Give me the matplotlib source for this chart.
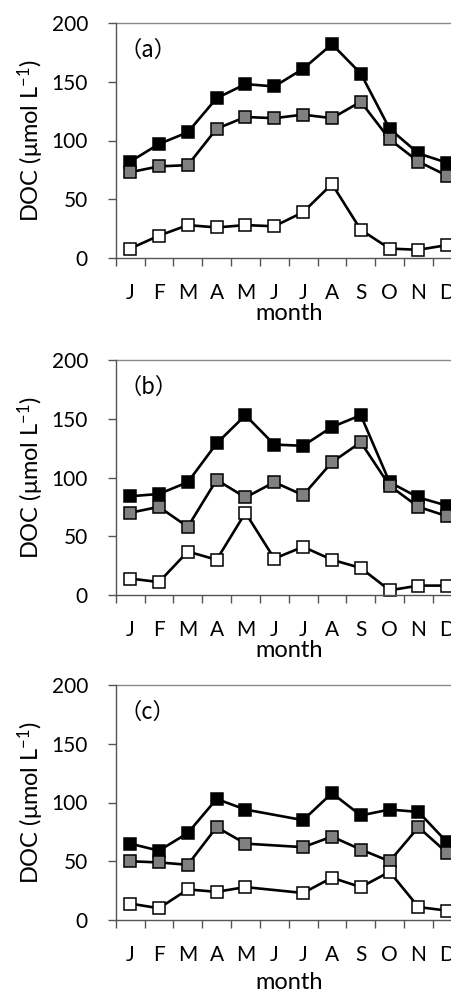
import matplotlib
matplotlib.use("Agg")
import matplotlib.pyplot as plt

plt.rcParams['font.family'] = ['Lato', 'Noto Sans CJK JP', 'DejaVu Sans']
plt.rcParams['mathtext.default'] = 'regular'

months = ['J', 'F', 'M', 'A', 'M', 'J', 'J', 'A', 'S', 'O', 'N', 'D']
panel_labels = ['（a）', '（b）', '（c）']

# panel (a)
a_black = [82, 97, 107, 136, 148, 146, 161, 182, 157, 110, 89, 81]
a_gray = [73, 78, 79, 110, 120, 119, 122, 119, 133, 101, 82, 70]
a_white = [8, 19, 28, 26, 28, 27, 39, 63, 24, 8, 7, 11]

# panel (b)
b_black = [84, 86, 96, 129, 153, 128, 127, 143, 153, 96, 83, 76]
b_gray = [70, 75, 58, 98, 83, 96, 85, 113, 130, 93, 75, 67]
b_white = [14, 11, 37, 30, 70, 31, 41, 30, 23, 4, 8, 8]

# panel (c) -- no June sample
c_months = [0, 1, 2, 3, 4, 6, 7, 8, 9, 10, 11]
c_black = [65, 59, 74, 103, 94, 85, 108, 89, 94, 92, 66]
c_gray = [50, 49, 47, 79, 65, 62, 71, 60, 50, 79, 57]
c_white = [14, 10, 26, 24, 28, 23, 36, 28, 41, 11, 8]

panels = [
    (list(range(12)), a_black, a_gray, a_white),
    (list(range(12)), b_black, b_gray, b_white),
    (c_months, c_black, c_gray, c_white),
]

fig = plt.figure(figsize=(4.51, 9.92), dpi=100)
W, H = 451, 992
tops = [23, 360, 685]
month_gap = [0, 0, 5]
spine_col = '#555555'

for i, (xs, blk, gry, wht) in enumerate(panels):
    top = tops[i]
    ax = fig.add_axes([115.7 / W, (H - top - 235) / H, 346 / W, 235 / H])
    for ys, fc in [(blk, 'black'), (gry, '#808080'), (wht, 'white')]:
        ax.plot(xs, ys, color='black', lw=1.9, marker='s', markersize=8.6,
                markerfacecolor=fc, markeredgecolor='black', markeredgewidth=1.1,
                clip_on=False)
    ax.set_xlim(-0.5, 11.5)
    ax.set_ylim(0, 200)
    ax.set_yticks([0, 50, 100, 150, 200])
    ax.set_xticks(range(12))
    ax.set_xticklabels(months)
    ax.set_xticks([k - 0.5 for k in range(13)], minor=True)
    ax.tick_params(axis='x', which='major', length=0, pad=18, labelsize=15)
    ax.tick_params(axis='x', which='minor', length=6, width=1, color=spine_col)
    ax.tick_params(axis='y', length=6, width=1, color=spine_col, pad=14, labelsize=15)
    for s in ['top', 'right']:
        ax.spines[s].set_visible(False)
    for s in ['left', 'bottom']:
        ax.spines[s].set_color(spine_col)
        ax.spines[s].set_linewidth(1)
    ax.axhline(200, color='#8a8a8a', lw=1, clip_on=False)
    ax.set_xlabel('month', fontsize=17, labelpad=month_gap[i])
    ax.set_ylabel('DOC (μmol L$^{-1}$)', fontsize=17, labelpad=4)
    ax.text(0.01, 0.885, panel_labels[i], transform=ax.transAxes, fontsize=16,
            family=['Noto Sans CJK JP', 'DejaVu Sans'], va='center', ha='left')

fig.savefig('out.png', dpi=100)
